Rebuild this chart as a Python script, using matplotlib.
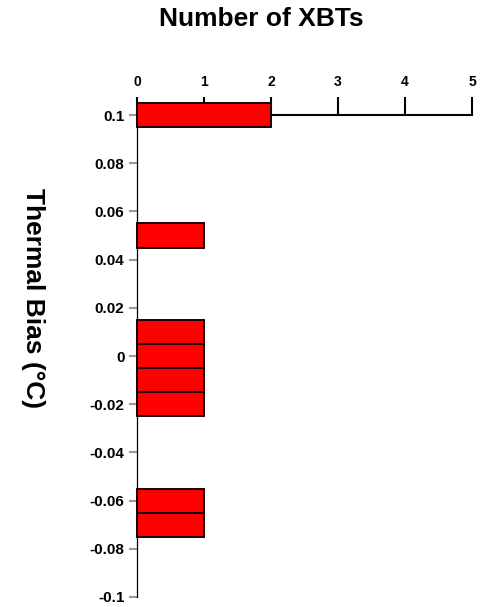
import matplotlib.pyplot as plt

# thermal bias bins (deg C) and number of XBTs in each
bias = [0.1, 0.05, 0.01, 0.0, -0.01, -0.02, -0.06, -0.07]
counts = [2, 1, 1, 1, 1, 1, 1, 1]

yticks = [0.1, 0.08, 0.06, 0.04, 0.02, 0, -0.02, -0.04, -0.06, -0.08, -0.1]
ylabels = ['0.1', '0.08', '0.06', '0.04', '0.02', '0', '-0.02', '-0.04', '-0.06', '-0.08', '-0.1']
xticks = [0, 1, 2, 3, 4, 5]

tick_font = ['Liberation Sans Narrow', 'Liberation Sans', 'DejaVu Sans']
label_font = ['Liberation Sans', 'DejaVu Sans']


def main():
    fig = plt.figure(figsize=(4.81, 6.07), dpi=100)
    ax = fig.add_axes([0.2848, 0.0165, 0.6965, 0.8138])

    ax.barh(bias, counts, height=0.01, color='#ff0000', edgecolor='#1a0000',
            linewidth=1.4, clip_on=False, zorder=3)

    ax.set_xlim(0, 5)
    ax.set_ylim(-0.1, 0.105)

    # x axis lives on top, sitting at y = 0.1
    ax.spines['top'].set_position(('data', 0.1))
    ax.spines['top'].set_linewidth(1.5)
    ax.spines['right'].set_visible(False)
    ax.spines['bottom'].set_visible(False)
    ax.spines['left'].set_linewidth(0.9)
    ax.xaxis.set_ticks_position('top')
    ax.xaxis.set_label_position('top')

    ax.set_xticks(xticks)
    ax.set_xticklabels([str(x) for x in xticks], family=tick_font,
                       fontweight='bold', fontsize=10)
    ax.tick_params(axis='x', direction='out', length=13, width=1.5, pad=6, colors='black')

    ax.set_yticks(yticks)
    ax.set_yticklabels(ylabels, family=tick_font, fontweight='bold', fontsize=11)
    ax.tick_params(axis='y', direction='out', length=6, width=1.5, pad=3,
                   color='#999999', labelcolor='black')

    fig.text(261 / 481, 1 - 19 / 607, 'Number of XBTs', ha='center', va='center',
             fontsize=19, fontweight='bold', family=label_font)
    fig.text(33 / 481, 1 - 298 / 607, 'Thermal Bias (°C)', ha='center', va='center',
             rotation=-90, fontsize=19, fontweight='bold', family=label_font)

    fig.savefig('out.png', dpi=100)


if __name__ == "__main__":
    main()
